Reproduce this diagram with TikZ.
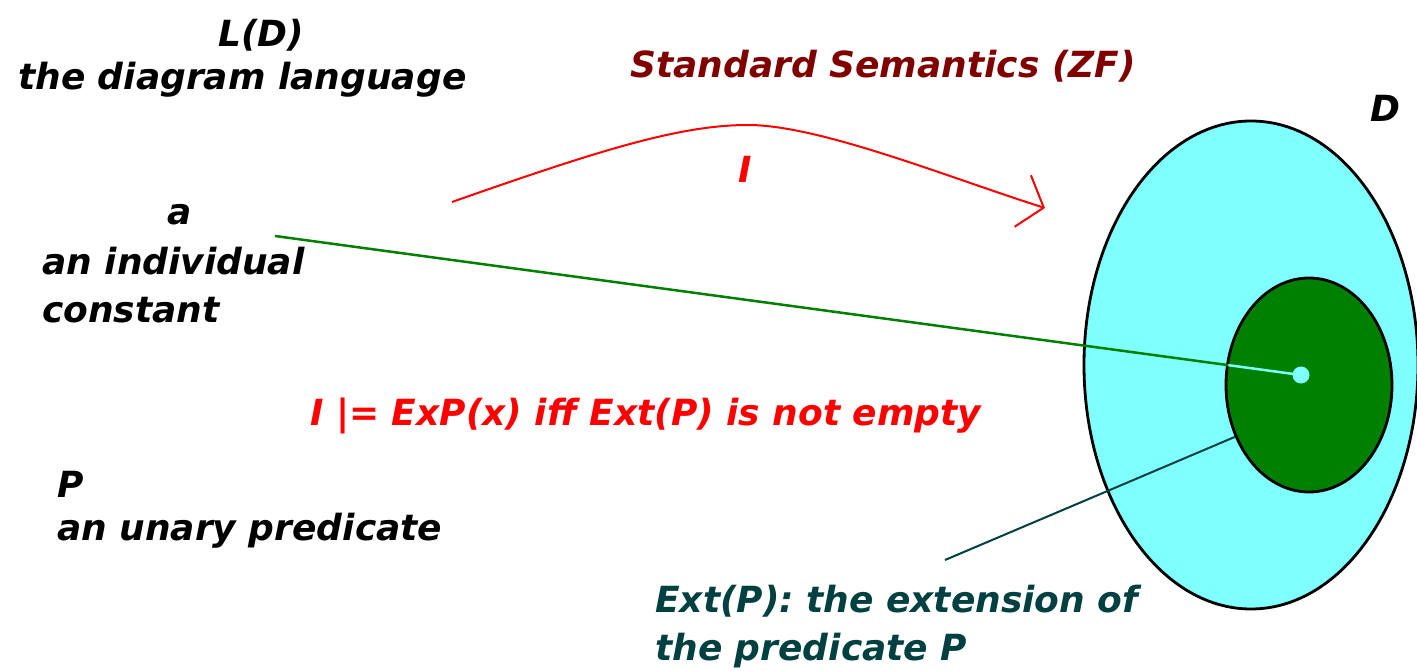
\documentclass[tikz,border=0pt]{standalone}
\usepackage{fontspec}
\setmainfont{DejaVu Sans}
\usetikzlibrary{arrows.meta,shapes.geometric}
\definecolor{lcyan}{HTML}{80FFFF}
\definecolor{dgreen}{HTML}{008000}
\definecolor{dteal}{HTML}{004040}
\definecolor{dred}{HTML}{800000}
\definecolor{pred}{HTML}{FF0000}
\begin{document}
\begin{tikzpicture}[x=1pt,y=-1pt,
  lbl/.style={font=\fontsize{36}{44}\selectfont\bfseries\itshape, inner sep=0pt, anchor=base west},
  setbox/.style={ellipse, draw=black, line width=2.8pt, inner sep=0pt}]
\useasboundingbox (0,0) rectangle (1417,671);
\clip (0,0) rectangle (1417,671);
% sets
\node[setbox, fill=lcyan, minimum width=334pt, minimum height=488pt] (Dset) at (1251,365) {};
\node[setbox, fill=dgreen, minimum width=166pt, minimum height=214pt] (ext) at (1309,385) {};
% coordinates
\coordinate (afrom) at (275,236);
\coordinate (extfrom) at (945,560);
\coordinate (ifrom) at (452,202);
\coordinate (ito) at (1045,208);
% connectors
\draw[dgreen, line width=2.5pt] (afrom) -- (1301,375);
\begin{scope}
  \clip (ext.center) ellipse [x radius=82pt, y radius=106pt];
  \draw[lcyan, line width=2.5pt] (afrom) -- (1301,375);
\end{scope}
\node[circle, fill=lcyan, minimum size=17pt, inner sep=0pt] (dot) at (1301,375) {};
\draw[dteal, line width=2pt] (extfrom) -- (ext.215);
\draw[pred, line width=2pt, -{Straight Barb[length=22pt,width=54pt]}]
  (ifrom) .. controls (600,150) and (680,125) .. (748,125)
  .. controls (820,125) and (950,178) .. (ito);
% labels
\node[lbl] (LD) at (218,47) {L(D)};
\node[lbl] (LDtxt) at (18,90) {the diagram language};
\node[lbl, text=dred] (std) at (630,78) {Standard Semantics (ZF)};
\node[lbl] (Dlbl) at (1370,122) {D};
\node[lbl, text=pred] (Ilbl) at (738,183) {I};
\node[lbl] (alb) at (167,225) {a};
\node[lbl] (ind1) at (42,275) {an individual};
\node[lbl] (ind2) at (42,322) {constant};
\node[lbl, text=pred] (rule) at (310,425) {I |= ExP(x) iff Ext(P) is not empty};
\node[lbl] (Plbl) at (57,497) {P};
\node[lbl] (Ptxt) at (57,540) {an unary predicate};
\node[lbl, text=dteal] (ext1) at (655,612) {Ext(P): the extension of};
\node[lbl, text=dteal] (ext2) at (655,660) {the predicate P};
\end{tikzpicture}
\end{document}
